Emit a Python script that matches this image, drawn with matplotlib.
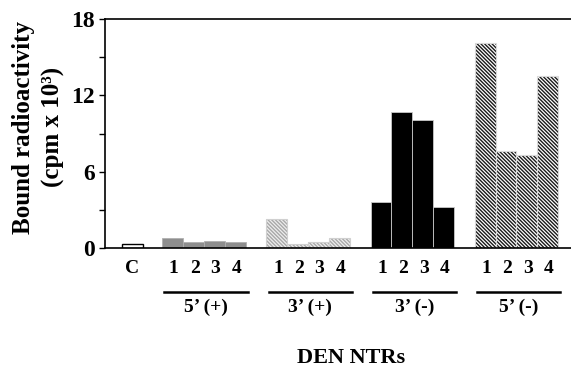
import numpy as np
import matplotlib
matplotlib.use("Agg")
import matplotlib.pyplot as plt
import matplotlib.transforms as mtransforms

# values (cpm x 10^3)
control_value = 0.35
group_names = ["5\u2019 (+)", "3\u2019 (+)", "3\u2019 (-)", "5\u2019 (-)"]
bar_labels = ["1", "2", "3", "4"]
five_plus = [0.78, 0.47, 0.55, 0.5]
three_plus = [2.3, 0.3, 0.45, 0.75]
three_minus = [3.6, 10.7, 10.1, 3.2]
five_minus = [16.1, 7.6, 7.3, 13.5]
y_ticks = [0, 6, 12, 18]

plt.rcParams['font.family'] = ['Liberation Serif', 'DejaVu Serif']
plt.rcParams['font.weight'] = 'bold'
plt.rcParams['hatch.linewidth'] = 1.0

fig = plt.figure(figsize=(5.71, 3.69), dpi=100)
ax = fig.add_axes([105 / 571, 1 - 248 / 369, 467 / 571, 229 / 369])

groups = [five_plus, three_plus, three_minus, five_minus]
# face, hatch colour, outline, hatch
styles = [
    ('#8e8e8e', None, '#b0b0b0', None),
    ('#eeeeee', '#a8a8a8', '#d0d0d0', '\\' * 9),
    ('black', None, '#c8c8c8', None),
    ('white', '#1a1a1a', '#d8d8d8', '\\' * 9),
]

# control bar
ax.bar(0, control_value, width=1, align='edge', color='white', edgecolor='black', linewidth=1)

trans = mtransforms.blended_transform_factory(ax.transData, ax.transAxes)
ax.text(0.5, -0.088, "C", transform=trans, ha='center', va='center', fontsize=14, fontweight='bold')

for g, vals in enumerate(groups):
    start = 1.93 + 5 * g
    xs = start + np.arange(len(vals))
    face, hcol, outline, hatch = styles[g]
    if hatch:
        ax.bar(xs, vals, width=1, align='edge', color=face, edgecolor=hcol, hatch=hatch, linewidth=0)
        ax.bar(xs, vals, width=1, align='edge', fill=False, edgecolor=outline, linewidth=0.8)
    else:
        ax.bar(xs, vals, width=1, align='edge', color=face, edgecolor=outline, linewidth=0.6)
    for x, lab in zip(xs, bar_labels):
        ax.text(x + 0.55, -0.088, lab, transform=trans, ha='center', va='center',
                fontsize=14, fontweight='bold')
    ax.plot([start + 0.1, start + 4.1], [-0.192, -0.192], transform=trans, color='black',
            linewidth=1.8, clip_on=False)
    ax.text(start + 2.1, -0.26, group_names[g], transform=trans, ha='center', va='center',
            fontsize=14, fontweight='bold')

ax.text(11.0, -0.48, "DEN NTRs", transform=trans, ha='center', va='center',
        fontsize=16, fontweight='bold')

ax.set_xlim(-0.82, 21.6)
ax.set_ylim(0, 18)
ax.set_yticks(y_ticks)
ax.set_yticks([3, 9, 15], minor=True)
ax.set_xticks([])
ax.tick_params(axis='y', which='both', direction='out', length=4, width=1, labelsize=17)
for lab in ax.get_yticklabels():
    lab.set_fontweight('bold')
ax.spines['right'].set_visible(False)
for s in ['left', 'top', 'bottom']:
    ax.spines[s].set_linewidth(1.2)

fig.text(24 / 571, 1 - 127 / 369, "Bound radioactivity", rotation=90, ha='center', va='center',
         fontsize=18, fontweight='bold')
fig.text(53 / 571, 1 - 127 / 369, "(cpm x 10\u00b3)", rotation=90, ha='center', va='center',
         fontsize=18, fontweight='bold')

fig.savefig("out.png", dpi=100)
